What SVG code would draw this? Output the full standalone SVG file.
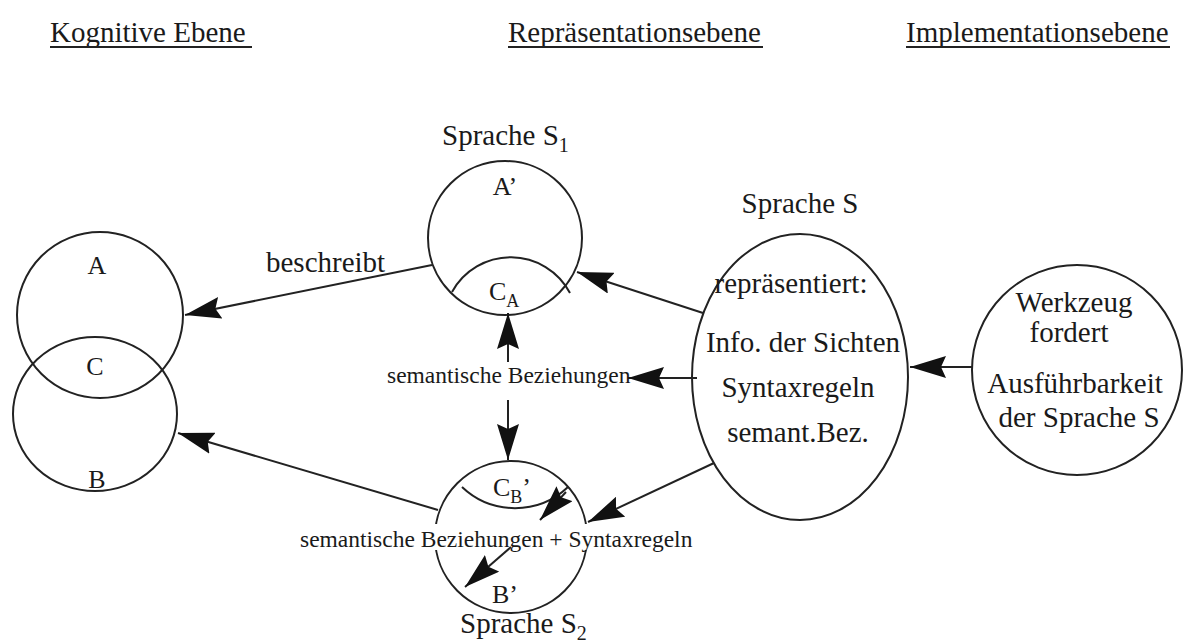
<svg xmlns="http://www.w3.org/2000/svg" width="1189" height="643" viewBox="0 0 1189 643">
  <style>
    .t { font-family: "Liberation Serif", "Times New Roman", serif; fill: #1a1a1a; }
    .big { font-size: 29px; }
    .lbl { font-size: 26px; }
    .small { font-size: 23.5px; }
    .title { font-size: 29px; }
    .shape { fill: none; stroke: #222; stroke-width: 2; }
    .conn { fill: none; stroke: #222; stroke-width: 2; }
  </style>
  <defs>
    <marker id="arrow" markerUnits="userSpaceOnUse" markerWidth="38" markerHeight="22" refX="36" refY="11" orient="auto">
      <path d="M0,0 L36,11 L0,22 L5,11 z" fill="#111"/>
    </marker>
  </defs>

  <rect width="1189" height="643" fill="#ffffff"/>

  <!-- column headings -->
  <g id="headings">
    <text class="t title" x="50" y="42">Kognitive Ebene</text>
    <line x1="50" y1="47" x2="252" y2="47" stroke="#222" stroke-width="2"/>
    <text class="t title" x="508" y="42">Repräsentationsebene</text>
    <line x1="508" y1="47" x2="763" y2="47" stroke="#222" stroke-width="2"/>
    <text class="t title" x="906" y="42">Implementationsebene</text>
    <line x1="906" y1="47" x2="1170" y2="47" stroke="#222" stroke-width="2"/>
  </g>

  <!-- cognitive level: concepts A and B with overlap C -->
  <g id="node-A">
    <circle class="shape" cx="100" cy="315" r="83"/>
    <text class="t lbl" x="97" y="274" text-anchor="middle">A</text>
  </g>
  <g id="node-B">
    <ellipse class="shape" cx="95" cy="414" rx="82" ry="77"/>
    <text class="t lbl" x="97" y="488" text-anchor="middle">B</text>
  </g>
  <g id="node-C">
    <text class="t lbl" x="95" y="375" text-anchor="middle">C</text>
  </g>

  <!-- language S1 -->
  <g id="node-S1">
    <text class="t big" x="442" y="145">Sprache S<tspan font-size="20" dy="7">1</tspan></text>
    <circle class="shape" cx="505" cy="238" r="77"/>
    <path class="shape" d="M452,292 A67,67 0 0 1 570,293"/>
    <text class="t lbl" x="505" y="195" text-anchor="middle">A’</text>
    <text class="t lbl" x="489" y="300">C<tspan font-size="18" dy="7">A</tspan></text>
  </g>

  <!-- language S2 -->
  <g id="node-S2">
    <circle class="shape" cx="511" cy="537" r="76"/>
    <path class="shape" d="M462,487 A77,77 0 0 0 568,487"/>
    <text class="t lbl" x="493" y="496">C<tspan font-size="18" dy="7">B</tspan><tspan dy="-7">’</tspan></text>
    <text class="t lbl" x="505" y="603" text-anchor="middle">B’</text>
    <text class="t big" x="460" y="633">Sprache S<tspan font-size="20" dy="7">2</tspan></text>
  </g>

  <!-- language S -->
  <g id="node-S">
    <text class="t big" x="800" y="213" text-anchor="middle">Sprache S</text>
    <ellipse class="shape" cx="800" cy="377" rx="108" ry="143"/>
    <text class="t big" x="791" y="293" text-anchor="middle">repräsentiert:</text>
    <text class="t big" x="803" y="352" text-anchor="middle">Info. der Sichten</text>
    <text class="t big" x="798" y="397" text-anchor="middle">Syntaxregeln</text>
    <text class="t big" x="798" y="442" text-anchor="middle">semant.Bez.</text>
  </g>

  <!-- tool -->
  <g id="node-tool">
    <circle class="shape" cx="1077" cy="370" r="105"/>
    <text class="t big" x="1074" y="312" text-anchor="middle">Werkzeug</text>
    <text class="t big" x="1069" y="342" text-anchor="middle">fordert</text>
    <text class="t big" x="1075" y="393" text-anchor="middle">Ausführbarkeit</text>
    <text class="t big" x="1079" y="427" text-anchor="middle">der Sprache S</text>
  </g>

  <!-- connectors -->
  <g id="connectors">
    <line class="conn" x1="432" y1="265" x2="185" y2="315" marker-end="url(#arrow)"/>
    <text class="t big" x="266" y="272">beschreibt</text>
    <line class="conn" x1="438" y1="510" x2="178" y2="433" marker-end="url(#arrow)"/>
    <line class="conn" x1="703" y1="313" x2="577" y2="272" marker-end="url(#arrow)"/>
    <line class="conn" x1="697" y1="378" x2="628" y2="378" marker-end="url(#arrow)"/>
    <line class="conn" x1="714" y1="463" x2="588" y2="522" marker-end="url(#arrow)"/>
    <line class="conn" x1="972" y1="367" x2="910" y2="367" marker-end="url(#arrow)"/>
    <line class="conn" x1="508" y1="362" x2="508" y2="313" marker-end="url(#arrow)"/>
    <line class="conn" x1="508" y1="400" x2="508" y2="460" marker-end="url(#arrow)"/>
    <text class="t small" x="387" y="383">semantische Beziehungen</text>
    <line class="conn" x1="566" y1="492" x2="540" y2="520" marker-end="url(#arrow)"/>
    <rect x="296" y="524" width="400" height="26" fill="#ffffff"/>
    <text class="t small" x="300" y="547">semantische Beziehungen + Syntaxregeln</text>
    <line class="conn" x1="511" y1="547" x2="465" y2="587" marker-end="url(#arrow)"/>
  </g>
</svg>
